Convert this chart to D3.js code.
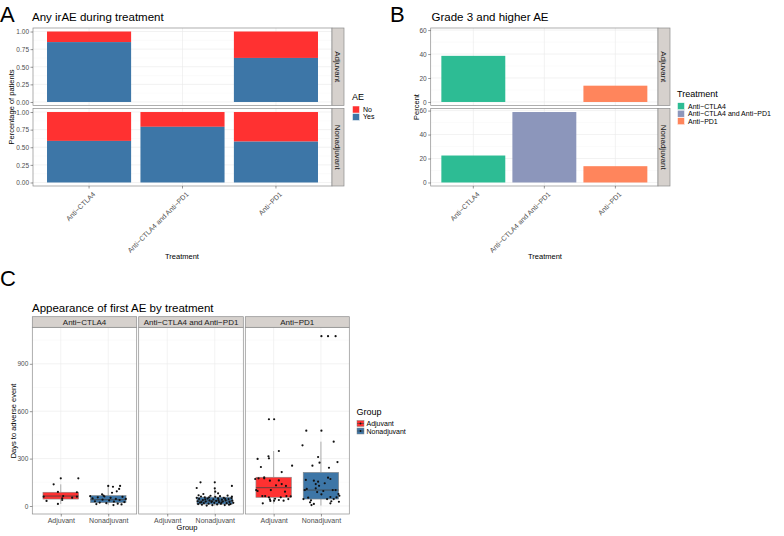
<!DOCTYPE html>
<html>
<head>
<meta charset="utf-8">
<script src="https://cdn.jsdelivr.net/npm/d3@7"></script>
<style>
  body { margin: 0; background: #fff; }
  text { font-family: "Liberation Sans", Arial, sans-serif; }
</style>
</head>
<body>
<script>
// ---- data ----
const treatments = ["Anti\u2212CTLA4", "Anti\u2212CTLA4 and Anti\u2212PD1", "Anti\u2212PD1"];
const groups = ["Adjuvant", "Nonadjuvant"];

// A: share of patients with any irAE (Yes); rest is No. null = no patients
const aeYesAdjuvant = [0.85, null, 0.625];
const aeYesNonadjuvant = [0.59, 0.79, 0.58];
const aeTicks = [0, 0.25, 0.5, 0.75, 1];

// B: percent grade 3+ AE
const grade3Adjuvant = [38.5, null, 13.6];
const grade3Nonadjuvant = [22.5, 58.8, 13.6];
const grade3Ticks = [0, 20, 40, 60];

// C: boxplot stats [lower whisker, q1, median, q3, upper whisker]
const boxAdjuvant = [[13, 44, 63, 87, 137], null, [15, 55, 116, 182, 348]];
const boxNonadjuvant = [[5, 21, 40, 66, 127], [2, 12, 32, 56, 112], [3, 44, 101, 213, 407]];
const daysTicks = [0, 300, 600, 900];

// C: jittered points [jitter (category units), days]
const ptsCtla4Adj = [[-0.15,137],[0,175],[0.37,175],[-0.36,59],[-0.3,32],[-0.06,89],[0.03,49],[0.03,38],
  [-0.06,13],[0.24,53],[0.34,87],[0.34,59],[0.05,63]];
const ptsCtla4Non = [[0,127],[0.1,122],[0.23,108],[0.25,127],[0.18,93],[0.08,84],[-0.13,74],
  [-0.38,62],[-0.33,48],[-0.28,30],[-0.22,55],[-0.18,22],[-0.12,40],[-0.08,60],[-0.04,18],[0.02,35],
  [0.05,52],[0.12,28],[0.16,45],[0.2,15],[0.24,38],[0.3,58],[0.34,25],[0.37,45],[-0.25,12],[0.11,6],
  [-0.1,66],[0.28,10]];
const ptsComboNon = [[-0.3,150],[0,150],[0.36,127],[-0.38,114],[0,112],[0.01,91],[0.07,80],[-0.24,76],
  [-0.38,52],[-0.36,30],[-0.35,12],[-0.33,45],[-0.31,22],[-0.29,60],[-0.27,8],[-0.25,38],[-0.23,18],
  [-0.21,55],[-0.19,28],[-0.17,3],[-0.15,47],[-0.13,15],[-0.11,35],[-0.09,65],[-0.07,25],[-0.05,5],
  [-0.03,42],[-0.01,20],[0.01,58],[0.03,32],[0.05,10],[0.07,48],[0.09,24],[0.11,62],[0.13,14],[0.15,40],
  [0.17,28],[0.19,52],[0.21,6],[0.23,36],[0.25,18],[0.27,66],[0.29,44],[0.31,26],[0.33,12],[0.35,50],
  [0.37,34],[0.39,20],[-0.34,68],[-0.2,42],[-0.06,30],[0.08,38],[0.22,45],[0.36,60],[-0.12,55],
  [0.14,22],[0.3,8],[-0.28,25]];
const ptsPd1Adj = [[-0.1,549],[0.01,549],[0.11,348],[-0.34,298],[-0.11,315],[-0.1,302],[-0.27,247],
  [0.39,255],[0.17,215],[-0.39,171],[-0.32,175],[-0.2,175],[-0.08,160],[0.11,162],[0.05,131],[-0.37,101],
  [-0.34,95],[-0.06,101],[0.17,139],[0.26,127],[0.24,91],[-0.24,63],[-0.18,63],[-0.1,55],[-0.08,42],
  [0.03,46],[0.11,38],[0.15,55],[0.27,63],[0.31,44],[0.36,61],[-0.23,17],[0.01,34],[-0.07,32],[0.21,34],
  [-0.2,182]];
const ptsPd1Non = [[0.01,1075],[0.15,1075],[0.31,1075],[-0.31,477],[0.01,477],[-0.39,384],[0.27,407],
  [-0.06,310],[-0.03,274],[-0.18,255],[0.35,278],[0.17,242],[0.15,179],[0.2,171],[-0.15,160],[-0.06,154],
  [0.08,144],[-0.32,165],[-0.11,112],[-0.34,101],[0.25,101],[0.31,101],[-0.37,44],[-0.27,53],[-0.21,36],
  [-0.15,13],[-0.2,6],[0.01,74],[0.2,57],[0.27,44],[0.33,55],[0.39,65],[-0.11,139],[-0.04,128],
  [-0.3,108],[0.37,76],[-0.23,23],[0.2,17],[0.38,27],[0.13,44],[0.05,95],[-0.08,88],[0.22,30]];
const ptsAdjuvant = [ptsCtla4Adj, null, ptsPd1Adj];
const ptsNonadjuvant = [ptsCtla4Non, ptsComboNon, ptsPd1Non];

// ---- styling ----
const red = "#ff3131", blue = "#3d76a7";
const treatColors = ["#2dbc94", "#8c96bb", "#ff855c"];
const gridMajor = "#e9e9e9", gridMinor = "#f4f4f4", borderCol = "#8c8c8c", stripFill = "#d6d1cd";
const tickText = "#4d4d4d";

const svg = d3.select("body").append("svg")
  .attr("width", 784).attr("height", 536)
  .style("background", "#fff");

function label(x, y, txt, size, opts) {
  opts = opts || {};
  const t = svg.append("text").attr("x", x).attr("y", y)
    .attr("font-size", size + "px").attr("fill", opts.fill || "#000")
    .attr("text-anchor", opts.anchor || "start").text(txt);
  if (opts.rotate) t.attr("transform", `rotate(${opts.rotate},${x},${y})`);
  return t;
}

function styleAxis(g) {
  g.select(".domain").remove();
  g.selectAll(".tick line").attr("stroke", "#333").attr("stroke-width", 0.5);
  g.selectAll(".tick text").attr("fill", tickText).attr("font-size", "6.5px")
    .attr("font-family", "Liberation Sans, Arial, sans-serif");
}

function hGrid(g, y, x0, x1, vals, col, w) {
  g.selectAll(null).data(vals).enter().append("line")
    .attr("x1", x0).attr("x2", x1).attr("y1", d => y(d)).attr("y2", d => y(d))
    .attr("stroke", col).attr("stroke-width", w);
}
function vGrid(g, xs, y0, y1, col, w) {
  g.selectAll(null).data(xs).enter().append("line")
    .attr("x1", d => d).attr("x2", d => d).attr("y1", y0).attr("y2", y1)
    .attr("stroke", col).attr("stroke-width", w);
}

// faceted bar panel with strips on the right (used by A and B)
function barPanel(opts) {
  const x = d3.scaleBand().domain(treatments).range([opts.x0, opts.x1])
    .paddingInner(0.1).paddingOuter(0.15);
  const rows = [
    { name: "Adjuvant", y0: 28, y1: 105.5, vals: opts.rows[0] },
    { name: "Nonadjuvant", y0: 108.5, y1: 186, vals: opts.rows[1] }
  ];
  const centers = treatments.map(t => x(t) + x.bandwidth() / 2);
  rows.forEach(r => {
    const y = d3.scaleLinear().domain(opts.domain).range([r.y1, r.y0]);
    const g = svg.append("g");
    hGrid(g, y, opts.x0, opts.x1, opts.minor, gridMinor, 0.4);
    hGrid(g, y, opts.x0, opts.x1, opts.ticks, gridMajor, 0.6);
    vGrid(g, centers, r.y0, r.y1, gridMajor, 0.6);
    opts.draw(g, x, y, r.vals);
    g.append("rect").attr("x", opts.x0).attr("y", r.y0)
      .attr("width", opts.x1 - opts.x0).attr("height", r.y1 - r.y0)
      .attr("fill", "none").attr("stroke", borderCol).attr("stroke-width", 0.7);
    // strip
    g.append("rect").attr("x", opts.x1).attr("y", r.y0).attr("width", 12).attr("height", r.y1 - r.y0)
      .attr("fill", stripFill).attr("stroke", borderCol).attr("stroke-width", 0.7);
    const cy = (r.y0 + r.y1) / 2;
    label(opts.x1 + 3.3, cy, r.name, 8, { anchor: "middle", fill: "#1a1a1a", rotate: 90 });
    // y axis
    const ax = svg.append("g").attr("transform", `translate(${opts.x0},0)`)
      .call(d3.axisLeft(y).tickValues(opts.ticks).tickFormat(opts.fmt).tickSize(2.5).tickPadding(1.5));
    styleAxis(ax);
    ax.selectAll(".tick text").attr("dy", "0.35em");
  });
  // x axis
  const xa = svg.append("g").attr("transform", "translate(0,186)")
    .call(d3.axisBottom(x).tickSize(2.5).tickPadding(2));
  styleAxis(xa);
  xa.selectAll(".tick text")
    .attr("font-size", "7px")
    .attr("text-anchor", "end").attr("dy", "0.3em").attr("dx", "0")
    .attr("transform", "translate(2,4) rotate(-45)");
}

// ---- Panel A ----
label(0, 22, "A", 22);
label(32, 21, "Any irAE during treatment", 11.5);
barPanel({
  x0: 33, x1: 332, rows: [aeYesAdjuvant, aeYesNonadjuvant],
  domain: [-0.05, 1.05], ticks: aeTicks, minor: [0.125, 0.375, 0.625, 0.875],
  fmt: d3.format(".2f"),
  draw: (g, x, y, vals) => {
    const d = treatments.map((t, i) => ({ t, v: vals[i] })).filter(e => e.v != null);
    g.selectAll(null).data(d).enter().append("rect")
      .attr("x", e => x(e.t)).attr("width", x.bandwidth())
      .attr("y", e => y(1)).attr("height", e => y(e.v) - y(1)).attr("fill", red);
    g.selectAll(null).data(d).enter().append("rect")
      .attr("x", e => x(e.t)).attr("width", x.bandwidth())
      .attr("y", e => y(e.v)).attr("height", e => y(0) - y(e.v)).attr("fill", blue);
  }
});
label(13.5, 107, "Percentage of patients", 7.5, { anchor: "middle", rotate: -90 });
label(182, 259, "Treatment", 7.5, { anchor: "middle" });
label(352, 100, "AE", 9);
[["No", red], ["Yes", blue]].forEach((k, i) => {
  svg.append("rect").attr("x", 352.5).attr("y", 106 + i * 7.5).attr("width", 7).attr("height", 7)
    .attr("fill", k[1]).attr("stroke", "#fff").attr("stroke-width", 0.5);
  label(363, 111.8 + i * 7.5, k[0], 7);
});

// ---- Panel B ----
label(390, 22, "B", 22);
label(431.5, 21, "Grade 3 and higher AE", 11.5);
barPanel({
  x0: 430.7, x1: 658, rows: [grade3Adjuvant, grade3Nonadjuvant],
  domain: [-2.94, 61.74], ticks: grade3Ticks, minor: [10, 30, 50],
  fmt: d3.format("d"),
  draw: (g, x, y, vals) => {
    const d = treatments.map((t, i) => ({ t, i, v: vals[i] })).filter(e => e.v != null);
    g.selectAll(null).data(d).enter().append("rect")
      .attr("x", e => x(e.t)).attr("width", x.bandwidth())
      .attr("y", e => y(e.v)).attr("height", e => y(0) - y(e.v)).attr("fill", e => treatColors[e.i]);
  }
});
label(419, 107, "Percent", 7.5, { anchor: "middle", rotate: -90 });
label(545, 259, "Treatment", 7.5, { anchor: "middle" });
label(677, 97, "Treatment", 9);
treatments.forEach((t, i) => {
  svg.append("rect").attr("x", 677.5).attr("y", 102.7 + i * 7.5).attr("width", 7).attr("height", 7)
    .attr("fill", treatColors[i]).attr("stroke", "#fff").attr("stroke-width", 0.5);
  label(688, 108.5 + i * 7.5, t, 7);
});

// ---- Panel C ----
label(0, 286, "C", 22);
label(32, 311.5, "Appearance of first AE by treatment", 11.5);
const cTop = 327.3, cBot = 514;
const yC = d3.scaleLinear().domain([-50.6, 1131]).range([cBot, cTop]);
const facetX = [[32.3, 136.7], [138.7, 243.3], [245.3, 349.3]];
treatments.forEach((t, ti) => {
  const [x0, x1] = facetX[ti];
  const x = d3.scalePoint().domain(groups).range([x0, x1]).padding(0.6);
  const unit = x.step();
  const g = svg.append("g");
  hGrid(g, yC, x0, x1, [150, 450, 750, 1050], gridMinor, 0.4);
  hGrid(g, yC, x0, x1, daysTicks, gridMajor, 0.6);
  vGrid(g, groups.map(d => x(d)), cTop, cBot, gridMajor, 0.6);

  [[boxAdjuvant, ptsAdjuvant, red], [boxNonadjuvant, ptsNonadjuvant, blue]].forEach((s, gi) => {
    const b = s[0][ti];
    if (!b) return;
    const cx = x(groups[gi]);
    const hw = unit * 0.75 / 2;
    g.append("line").attr("x1", cx).attr("x2", cx).attr("y1", yC(b[4])).attr("y2", yC(b[3]))
      .attr("stroke", "#777").attr("stroke-width", 0.6);
    g.append("line").attr("x1", cx).attr("x2", cx).attr("y1", yC(b[1])).attr("y2", yC(b[0]))
      .attr("stroke", "#777").attr("stroke-width", 0.6);
    g.append("rect").attr("x", cx - hw).attr("width", 2 * hw)
      .attr("y", yC(b[3])).attr("height", yC(b[1]) - yC(b[3]))
      .attr("fill", s[2]).attr("stroke", "#888").attr("stroke-width", 0.6);
    g.append("line").attr("x1", cx - hw).attr("x2", cx + hw).attr("y1", yC(b[2])).attr("y2", yC(b[2]))
      .attr("stroke", "#444").attr("stroke-width", 0.8);
    g.selectAll(null).data(s[1][ti]).enter().append("circle")
      .attr("cx", p => cx + p[0] * unit).attr("cy", p => yC(p[1]))
      .attr("r", 1.1).attr("fill", "#111");
  });

  g.append("rect").attr("x", x0).attr("y", cTop).attr("width", x1 - x0).attr("height", cBot - cTop)
    .attr("fill", "none").attr("stroke", borderCol).attr("stroke-width", 0.7);
  g.append("rect").attr("x", x0).attr("y", 316.7).attr("width", x1 - x0).attr("height", cTop - 316.7)
    .attr("fill", stripFill).attr("stroke", borderCol).attr("stroke-width", 0.7);
  label((x0 + x1) / 2, 325, t, 8, { anchor: "middle", fill: "#1a1a1a" });

  const xa = svg.append("g").attr("transform", `translate(0,${cBot})`)
    .call(d3.axisBottom(x).tickSize(2.5).tickPadding(1.5));
  styleAxis(xa);
  xa.selectAll(".tick text").attr("font-size", "7px");
});
const yaxC = svg.append("g").attr("transform", `translate(${facetX[0][0]},0)`)
  .call(d3.axisLeft(yC).tickValues(daysTicks).tickSize(2.5).tickPadding(1.5));
styleAxis(yaxC);
label(16, 421, "Days to adverse event", 7.5, { anchor: "middle", rotate: -90 });
label(187, 529.5, "Group", 7.5, { anchor: "middle" });
label(356.5, 415, "Group", 9);
[["Adjuvant", red], ["Nonadjuvant", blue]].forEach((k, i) => {
  const ky = 420.5 + i * 7.5;
  svg.append("rect").attr("x", 357).attr("y", ky).attr("width", 7).attr("height", 6)
    .attr("fill", k[1]).attr("stroke", "#888").attr("stroke-width", 0.5);
  svg.append("line").attr("x1", 357).attr("x2", 364).attr("y1", ky + 3).attr("y2", ky + 3)
    .attr("stroke", "#444").attr("stroke-width", 0.6);
  svg.append("circle").attr("cx", 360.5).attr("cy", ky + 3).attr("r", 0.9).attr("fill", "#111");
  label(366.5, ky + 5.5, k[0], 7);
});
</script>
</body>
</html>
